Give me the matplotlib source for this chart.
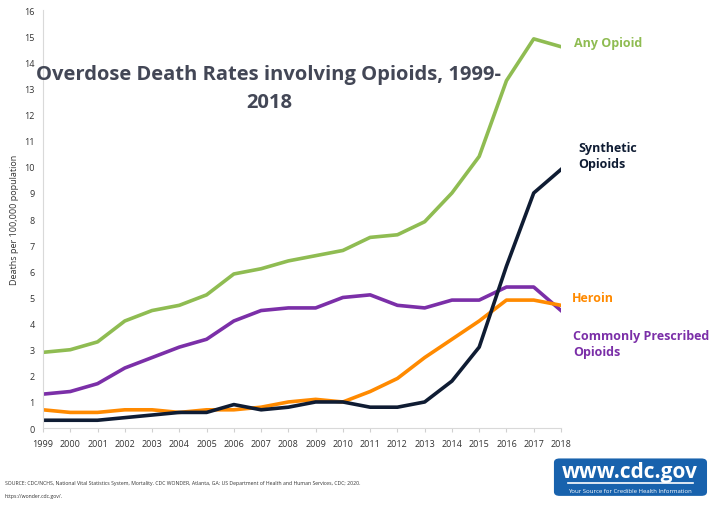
import numpy as np
import matplotlib
matplotlib.use("Agg")
from matplotlib import pyplot as plt
from matplotlib.patches import FancyBboxPatch

# Data (deaths per 100,000 population)
years = list(range(1999, 2019))
any_opioid = [2.9, 3.0, 3.3, 4.1, 4.5, 4.7, 5.1, 5.9, 6.1, 6.4,
              6.6, 6.8, 7.3, 7.4, 7.9, 9.0, 10.4, 13.3, 14.9, 14.6]
synthetic = [0.3, 0.3, 0.3, 0.4, 0.5, 0.6, 0.6, 0.9, 0.7, 0.8,
             1.0, 1.0, 0.8, 0.8, 1.0, 1.8, 3.1, 6.2, 9.0, 9.9]
heroin = [0.7, 0.6, 0.6, 0.7, 0.7, 0.6, 0.7, 0.7, 0.8, 1.0,
          1.1, 1.0, 1.4, 1.9, 2.7, 3.4, 4.1, 4.9, 4.9, 4.7]
prescribed = [1.3, 1.4, 1.7, 2.3, 2.7, 3.1, 3.4, 4.1, 4.5, 4.6,
              4.6, 5.0, 5.1, 4.7, 4.6, 4.9, 4.9, 5.4, 5.4, 4.5]

green = "#8fbc52"
navy = "#0f1c33"
orange = "#ff8a00"
purple = "#7b2fa8"

plt.rcParams['font.family'] = ['Open Sans', 'DejaVu Sans']

fig = plt.figure(figsize=(7.12, 5.06), dpi=100)
ax = fig.add_axes([0.0604, 0.152, 0.7275, 0.826])

# draw order: heroin under synthetic in the crossover, like the original
ax.plot(years, any_opioid, color=green, lw=2.6)
ax.plot(years, prescribed, color=purple, lw=2.6)
ax.plot(years, heroin, color=orange, lw=2.6)
ax.plot(years, synthetic, color=navy, lw=2.6)

ax.set_xlim(1999, 2018)
ax.set_ylim(0, 16)
ax.set_yticks(range(0, 17))
ax.set_xticks(years)
ax.tick_params(axis='both', labelsize=6.5, colors='#333333', length=0, pad=6)
ax.tick_params(axis='x', length=3, color='#d0d0d0', direction='out', pad=5)
for s in ['top', 'right']:
    ax.spines[s].set_visible(False)
ax.spines['left'].set_color('#d9d9d9')
ax.spines['bottom'].set_color('#d9d9d9')
ax.set_ylabel("Deaths per 100,000 population", fontsize=6.5, color='#333333', labelpad=4)

# title inside the plot area
fig.text(0.377, 0.852, "Overdose Death Rates involving Opioids, 1999-",
         fontsize=14.5, fontweight='bold', color='#434756', ha='center', va='center')
fig.text(0.378, 0.797, "2018", fontsize=14.5, fontweight='bold',
         color='#434756', ha='center', va='center')

# series labels
fig.text(0.806, 0.915, "Any Opioid", fontsize=9, fontweight='bold', color=green, va='center')
fig.text(0.812, 0.691, "Synthetic\nOpioids", fontsize=9, fontweight='bold', color=navy,
         va='center', linespacing=1.3)
fig.text(0.803, 0.411, "Heroin", fontsize=9, fontweight='bold', color=orange, va='center')
fig.text(0.805, 0.320, "Commonly Prescribed\nOpioids", fontsize=9, fontweight='bold',
         color=purple, va='center', linespacing=1.3)

# source note
fig.text(0.007, 0.031,
         "SOURCE: CDC/NCHS, National Vital Statistics System, Mortality. CDC WONDER, Atlanta, GA: "
         "US Department of Health and Human Services, CDC; 2020.\nhttps://wonder.cdc.gov/.",
         fontsize=3.7, color='#333333', va='center', linespacing=3.0)

# cdc.gov badge
badge = FancyBboxPatch((0.778, 0.018), 0.215, 0.074, boxstyle="round,pad=0,rounding_size=0.008",
                       transform=fig.transFigure, facecolor='#1862ad', edgecolor='none')
fig.patches.append(badge)
fig.text(0.885, 0.067, "www.cdc.gov", fontsize=15, fontweight='bold', color='white',
         ha='center', va='center')
fig.lines.append(plt.Line2D([0.798, 0.973], [0.044, 0.044], transform=fig.transFigure,
                            color='white', lw=1.2))
fig.text(0.885, 0.029, "Your Source for Credible Health Information", fontsize=4.3,
         color='white', ha='center', va='center')

fig.savefig("out.png", dpi=100)
